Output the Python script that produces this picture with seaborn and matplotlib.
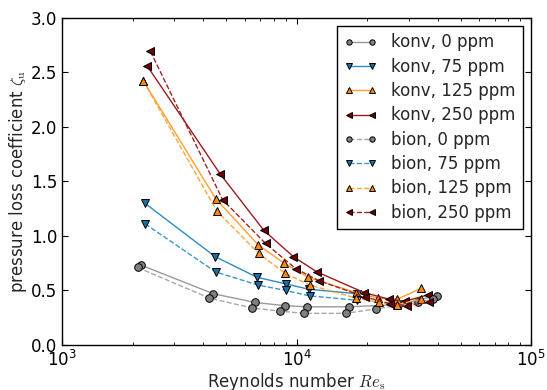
import numpy as np
import pandas as pd
import matplotlib
matplotlib.use('Agg')
import matplotlib.pyplot as plt
import seaborn as sns

re_konv_0 = [2180, 4410, 6640, 8910, 11100, 16800, 27000, 39600]
zeta_konv_0 = [0.73, 0.47, 0.39, 0.36, 0.35, 0.35, 0.37, 0.45]
re_bion_0 = [2100, 4240, 6430, 8510, 10800, 16200, 21700, 32800, 38300]
zeta_bion_0 = [0.71, 0.43, 0.34, 0.31, 0.29, 0.29, 0.33, 0.39, 0.42]

re_konv_75 = [2250, 4490, 6790, 8970, 11300, 18100]
zeta_konv_75 = [1.30, 0.81, 0.62, 0.56, 0.51, 0.47]
re_bion_75 = [2260, 4510, 6820, 8970, 11350, 18100]
zeta_bion_75 = [1.11, 0.67, 0.55, 0.50, 0.45, 0.41]

re_konv_125 = [2220, 4520, 6840, 8830, 11220, 17900, 22300, 26900, 34000]
zeta_konv_125 = [2.42, 1.34, 0.92, 0.75, 0.62, 0.48, 0.43, 0.42, 0.52]
re_bion_125 = [2220, 4560, 6880, 8890, 11350, 17900, 22500, 26900, 33800]
zeta_bion_125 = [2.42, 1.23, 0.84, 0.66, 0.55, 0.43, 0.39, 0.37, 0.42]

re_konv_250 = [2300, 4710, 7250, 9680, 12190, 19400, 24700, 28900, 36400]
zeta_konv_250 = [2.56, 1.57, 1.05, 0.81, 0.67, 0.48, 0.42, 0.40, 0.46]
re_bion_250 = [2380, 4840, 7370, 9910, 12410, 19600, 24900, 29500, 36700]
zeta_bion_250 = [2.69, 1.33, 0.93, 0.70, 0.59, 0.44, 0.38, 0.36, 0.39]

sns.set_style('ticks')
plt.rcParams.update({
    'font.family': ['DejaVu Sans'],
    'font.size': 12,
    'mathtext.fontset': 'cm',
    'xtick.direction': 'in',
    'ytick.direction': 'in',
    'xtick.top': True,
    'ytick.right': True,
    'xtick.major.size': 4,
    'xtick.minor.size': 2,
    'ytick.major.size': 4,
    'xtick.color': 'black',
    'ytick.color': 'black',
    'axes.edgecolor': 'black',
    'axes.linewidth': 1.0,
    'xtick.labelsize': 12,
    'ytick.labelsize': 12,
})

fig = plt.figure(figsize=(5.47, 3.90), dpi=100)
ax = fig.add_axes([0.1135, 0.1154, 0.8575, 0.8397])

# (Name, Re, zeta, Linienfarbe, Markerfarbe, Marker, Linienstil)
series = [
    ('konv, 0 ppm', re_konv_0, zeta_konv_0, '#9a9a9a', '#808080', 'o', '-'),
    ('konv, 75 ppm', re_konv_75, zeta_konv_75, '#2b8cc4', '#1a6fa3', 'v', '-'),
    ('konv, 125 ppm', re_konv_125, zeta_konv_125, '#ff9f2e', '#ff8c00', '^', '-'),
    ('konv, 250 ppm', re_konv_250, zeta_konv_250, '#9b1c1c', '#700000', '<', '-'),
    ('bion, 0 ppm', re_bion_0, zeta_bion_0, '#a8a8a8', '#808080', 'o', '--'),
    ('bion, 75 ppm', re_bion_75, zeta_bion_75, '#3a96cc', '#1a6fa3', 'v', '--'),
    ('bion, 125 ppm', re_bion_125, zeta_bion_125, '#ffa53a', '#ff8c00', '^', '--'),
    ('bion, 250 ppm', re_bion_250, zeta_bion_250, '#a02424', '#700000', '<', '--'),
]

for name, re, zeta, lc, mc, mk, ls in series:
    df = pd.DataFrame({'Re': re, 'zeta': zeta})
    sns.lineplot(data=df, x='Re', y='zeta', ax=ax, color=lc, linestyle=ls,
                 linewidth=1.0, marker=mk, markersize=5.5,
                 markerfacecolor=mc, markeredgecolor='black',
                 markeredgewidth=0.7, label=name, sort=False)

ax.set_xscale('log')
ax.set_xlim(1e3, 1e5)
ax.set_ylim(0, 3.0)
ax.set_yticks(np.arange(0, 3.01, 0.5))
ax.set_yticklabels([f'{v:.1f}' for v in np.arange(0, 3.01, 0.5)])
ax.set_xlabel(r'Reynolds number $Re_\mathrm{s}$', fontsize=12, labelpad=1)
ax.set_ylabel(r'pressure loss coefficient $\zeta_\mathrm{u}$', fontsize=12, labelpad=1)
ax.grid(False)

leg = ax.legend(loc='upper right', numpoints=2, fancybox=False,
                frameon=True, edgecolor='black', framealpha=1.0,
                fontsize=12, handlelength=2.0, borderaxespad=0.5,
                labelspacing=0.38, markerscale=0.7, borderpad=0.45)
leg.get_frame().set_linewidth(1.0)

fig.savefig('out.png', dpi=100)
